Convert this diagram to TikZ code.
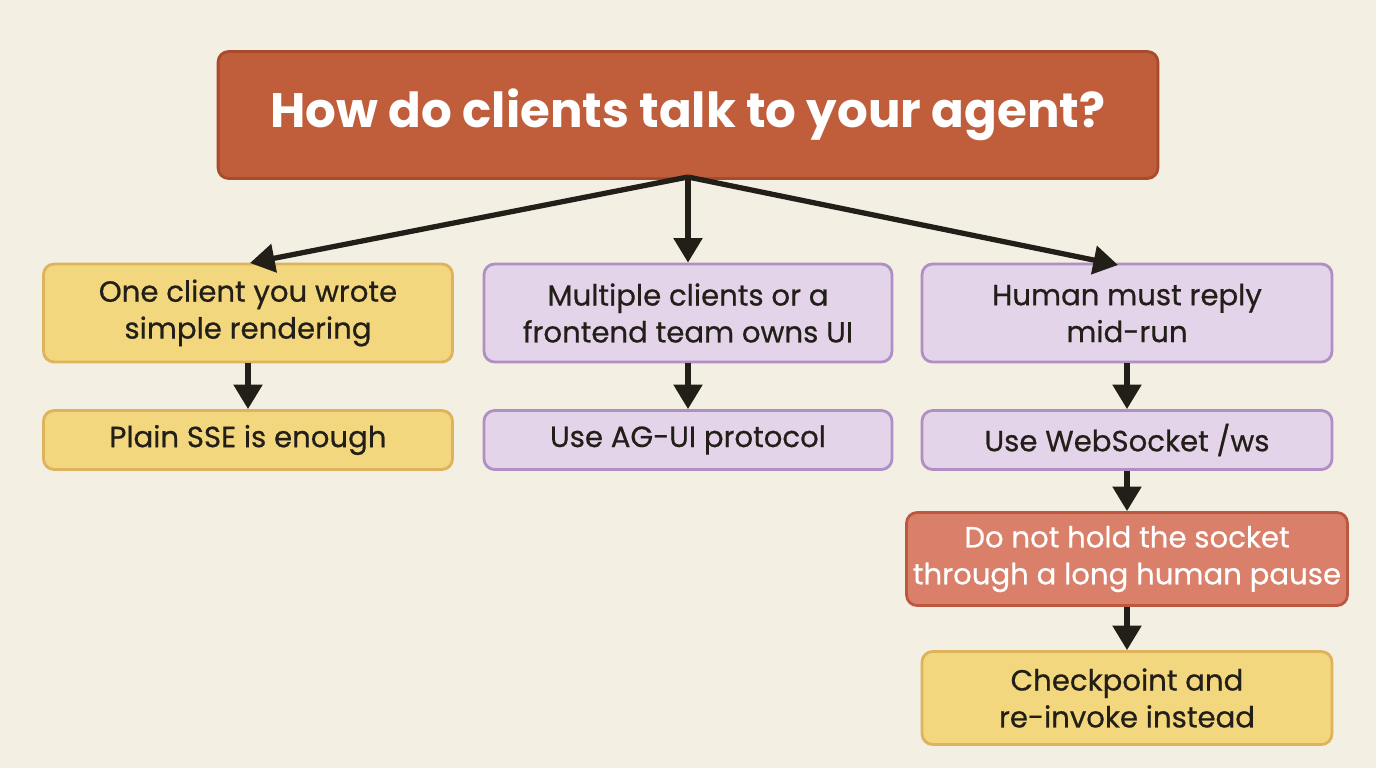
\documentclass[tikz,border=0pt]{standalone}
\usepackage{fontspec}
\setmainfont{Poppins}
\newfontfamily\medfont{Poppins}[FakeBold=0.6]
\usepackage{tikz}
\usetikzlibrary{arrows.meta}
\definecolor{bgcol}{HTML}{F3EFE2}
\definecolor{titlefill}{HTML}{C05E3C}
\definecolor{titledraw}{HTML}{A84A2C}
\definecolor{yelfill}{HTML}{F3D77E}
\definecolor{yeldraw}{HTML}{DDB35C}
\definecolor{purfill}{HTML}{E3D4EA}
\definecolor{purdraw}{HTML}{B08FC4}
\definecolor{redfill}{HTML}{DA806A}
\definecolor{reddraw}{HTML}{BD5840}
\definecolor{ink}{HTML}{221E18}
\tikzstyle{arrow} = [-{Triangle[length=14pt,width=16pt]},line width=3pt,draw=ink]
\tikzstyle{box} = [draw,rounded corners=6pt,line width=1.6pt,align=center,font=\medfont\fontsize{16.6}{21}\selectfont,text=ink,inner sep=0pt]
\tikzstyle{yel} = [box,fill=yelfill,draw=yeldraw]
\tikzstyle{pur} = [box,fill=purfill,draw=purdraw]

\begin{document}
\begin{tikzpicture}[x=0.02cm,y=-0.02cm]
        \fill[bgcol] (0,0) rectangle (1376,768);
        \useasboundingbox (0,0) rectangle (1376,768);
        \node[box, fill=titlefill, draw=titledraw, text=white, minimum width=18.8cm, minimum height=2.54cm,
              font=\fontsize{27.5}{32}\selectfont\bfseries] at (688,115) (q) {How do clients talk to your agent?};

        \node[yel, minimum width=8.18cm, minimum height=1.96cm] at (248,313) (one) {One client you wrote\\simple rendering};
        \node[yel, minimum width=8.18cm, minimum height=1.18cm] at (248,440) (sse) {Plain SSE is enough};
        \node[pur, minimum width=8.16cm, minimum height=1.96cm] at (688,313) (multi) {Multiple clients or a\\frontend team owns UI};
        \node[pur, minimum width=8.16cm, minimum height=1.18cm] at (688,440) (agui) {Use AG-UI protocol};
        \node[pur, minimum width=8.2cm, minimum height=1.96cm] at (1127,313) (human) {Human must reply\\mid-run};
        \node[pur, minimum width=8.2cm, minimum height=1.18cm] at (1127,440) (ws) {Use WebSocket /ws};
        \node[box, fill=redfill, draw=reddraw, text=white, minimum width=8.82cm, minimum height=1.86cm] at (1127,559) (hold) {Do not hold the socket\\through a long human pause};
        \node[yel, minimum width=8.2cm, minimum height=1.86cm] at (1127,698) (ckpt) {Checkpoint and\\re-invoke instead};

        \coordinate (top) at (688,177);
        \draw[arrow] (top) -- (250,263);
        \draw[arrow] (top) -- (multi);
        \draw[arrow] (top) -- (1118,265);
        \draw[arrow] (one) -- (sse);
        \draw[arrow] (multi) -- (agui);
        \draw[arrow] (human) -- (ws);
        \draw[arrow] (ws) -- (hold);
        \draw[arrow] (hold) -- (ckpt);
    \end{tikzpicture}
\end{document}
